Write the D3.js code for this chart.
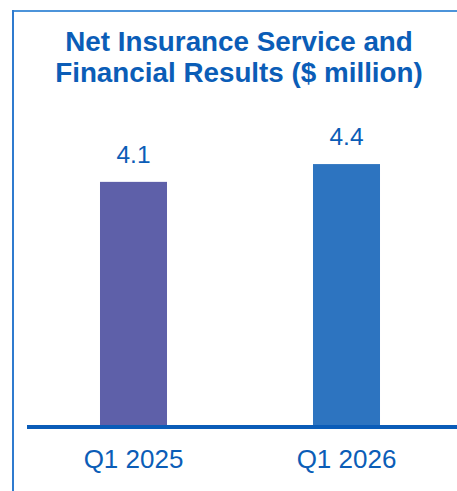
<!DOCTYPE html>
<html>
<head>
<meta charset="utf-8">
<script src="https://cdn.jsdelivr.net/npm/d3@7"></script>
<style>
  html, body { margin: 0; padding: 0; background: #ffffff; }
  svg { display: block; font-family: "Liberation Sans", Arial, sans-serif; }
</style>
</head>
<body>
<svg id="chart" width="457" height="491"></svg>
<script>
// Quarterly figures, $ million
const categories = ["Q1 2025", "Q1 2026"];
const values = [4.1, 4.4];
const barColors = ["#5E60A9", "#2D74C0"];
const titleLines = ["Net Insurance Service and", "Financial Results ($ million)"];

const svg = d3.select("#chart");
const textBlue = "#0B5DB7";

// Panel frame (open on the right and bottom)
svg.append("line").attr("x1", 12).attr("x2", 457).attr("y1", 11).attr("y2", 11)
  .attr("stroke", "#4C94DA").attr("stroke-width", 2);
svg.append("line").attr("x1", 13).attr("x2", 13).attr("y1", 10).attr("y2", 491)
  .attr("stroke", "#2F7BCF").attr("stroke-width", 2);

// Title
svg.append("text")
  .attr("x", 239).attr("y", 51)
  .attr("text-anchor", "middle")
  .attr("font-size", 27.8).attr("font-weight", "bold")
  .attr("fill", textBlue)
  .selectAll("tspan").data(titleLines).join("tspan")
  .attr("x", 239).attr("dy", (d, i) => i === 0 ? 0 : 31)
  .text(d => d);

// Scales
const x = d3.scaleBand()
  .domain(categories)
  .range([27, 453])
  .paddingInner(0.6854)
  .paddingOuter(0.3427);

const y = d3.scaleLinear()
  .domain([0, 5])
  .range([425, 128.5]);

// Bars
svg.append("g").selectAll("rect").data(values).join("rect")
  .attr("x", (d, i) => x(categories[i]))
  .attr("y", d => y(d))
  .attr("width", x.bandwidth())
  .attr("height", d => y(0) - y(d))
  .attr("fill", (d, i) => barColors[i]);

// Value labels
svg.append("g").selectAll("text").data(values).join("text")
  .attr("x", (d, i) => x(categories[i]) + x.bandwidth() / 2)
  .attr("y", d => y(d) - 19)
  .attr("text-anchor", "middle")
  .attr("font-size", 24.5)
  .attr("fill", textBlue)
  .text(d => d.toFixed(1));

// Baseline axis
const xAxis = d3.axisBottom(x).tickSize(0).tickPadding(0);
const axisG = svg.append("g").attr("transform", "translate(0,427)").call(xAxis);
axisG.select(".domain").remove();
axisG.append("line")
  .attr("x1", 27).attr("x2", 457).attr("y1", 0).attr("y2", 0)
  .attr("stroke", "#0A5CB8").attr("stroke-width", 4);
axisG.selectAll(".tick text")
  .attr("font-family", "Liberation Sans, Arial, sans-serif")
  .attr("font-size", 26)
  .attr("fill", textBlue)
  .attr("dy", 0)
  .attr("y", 41);
</script>
</body>
</html>
